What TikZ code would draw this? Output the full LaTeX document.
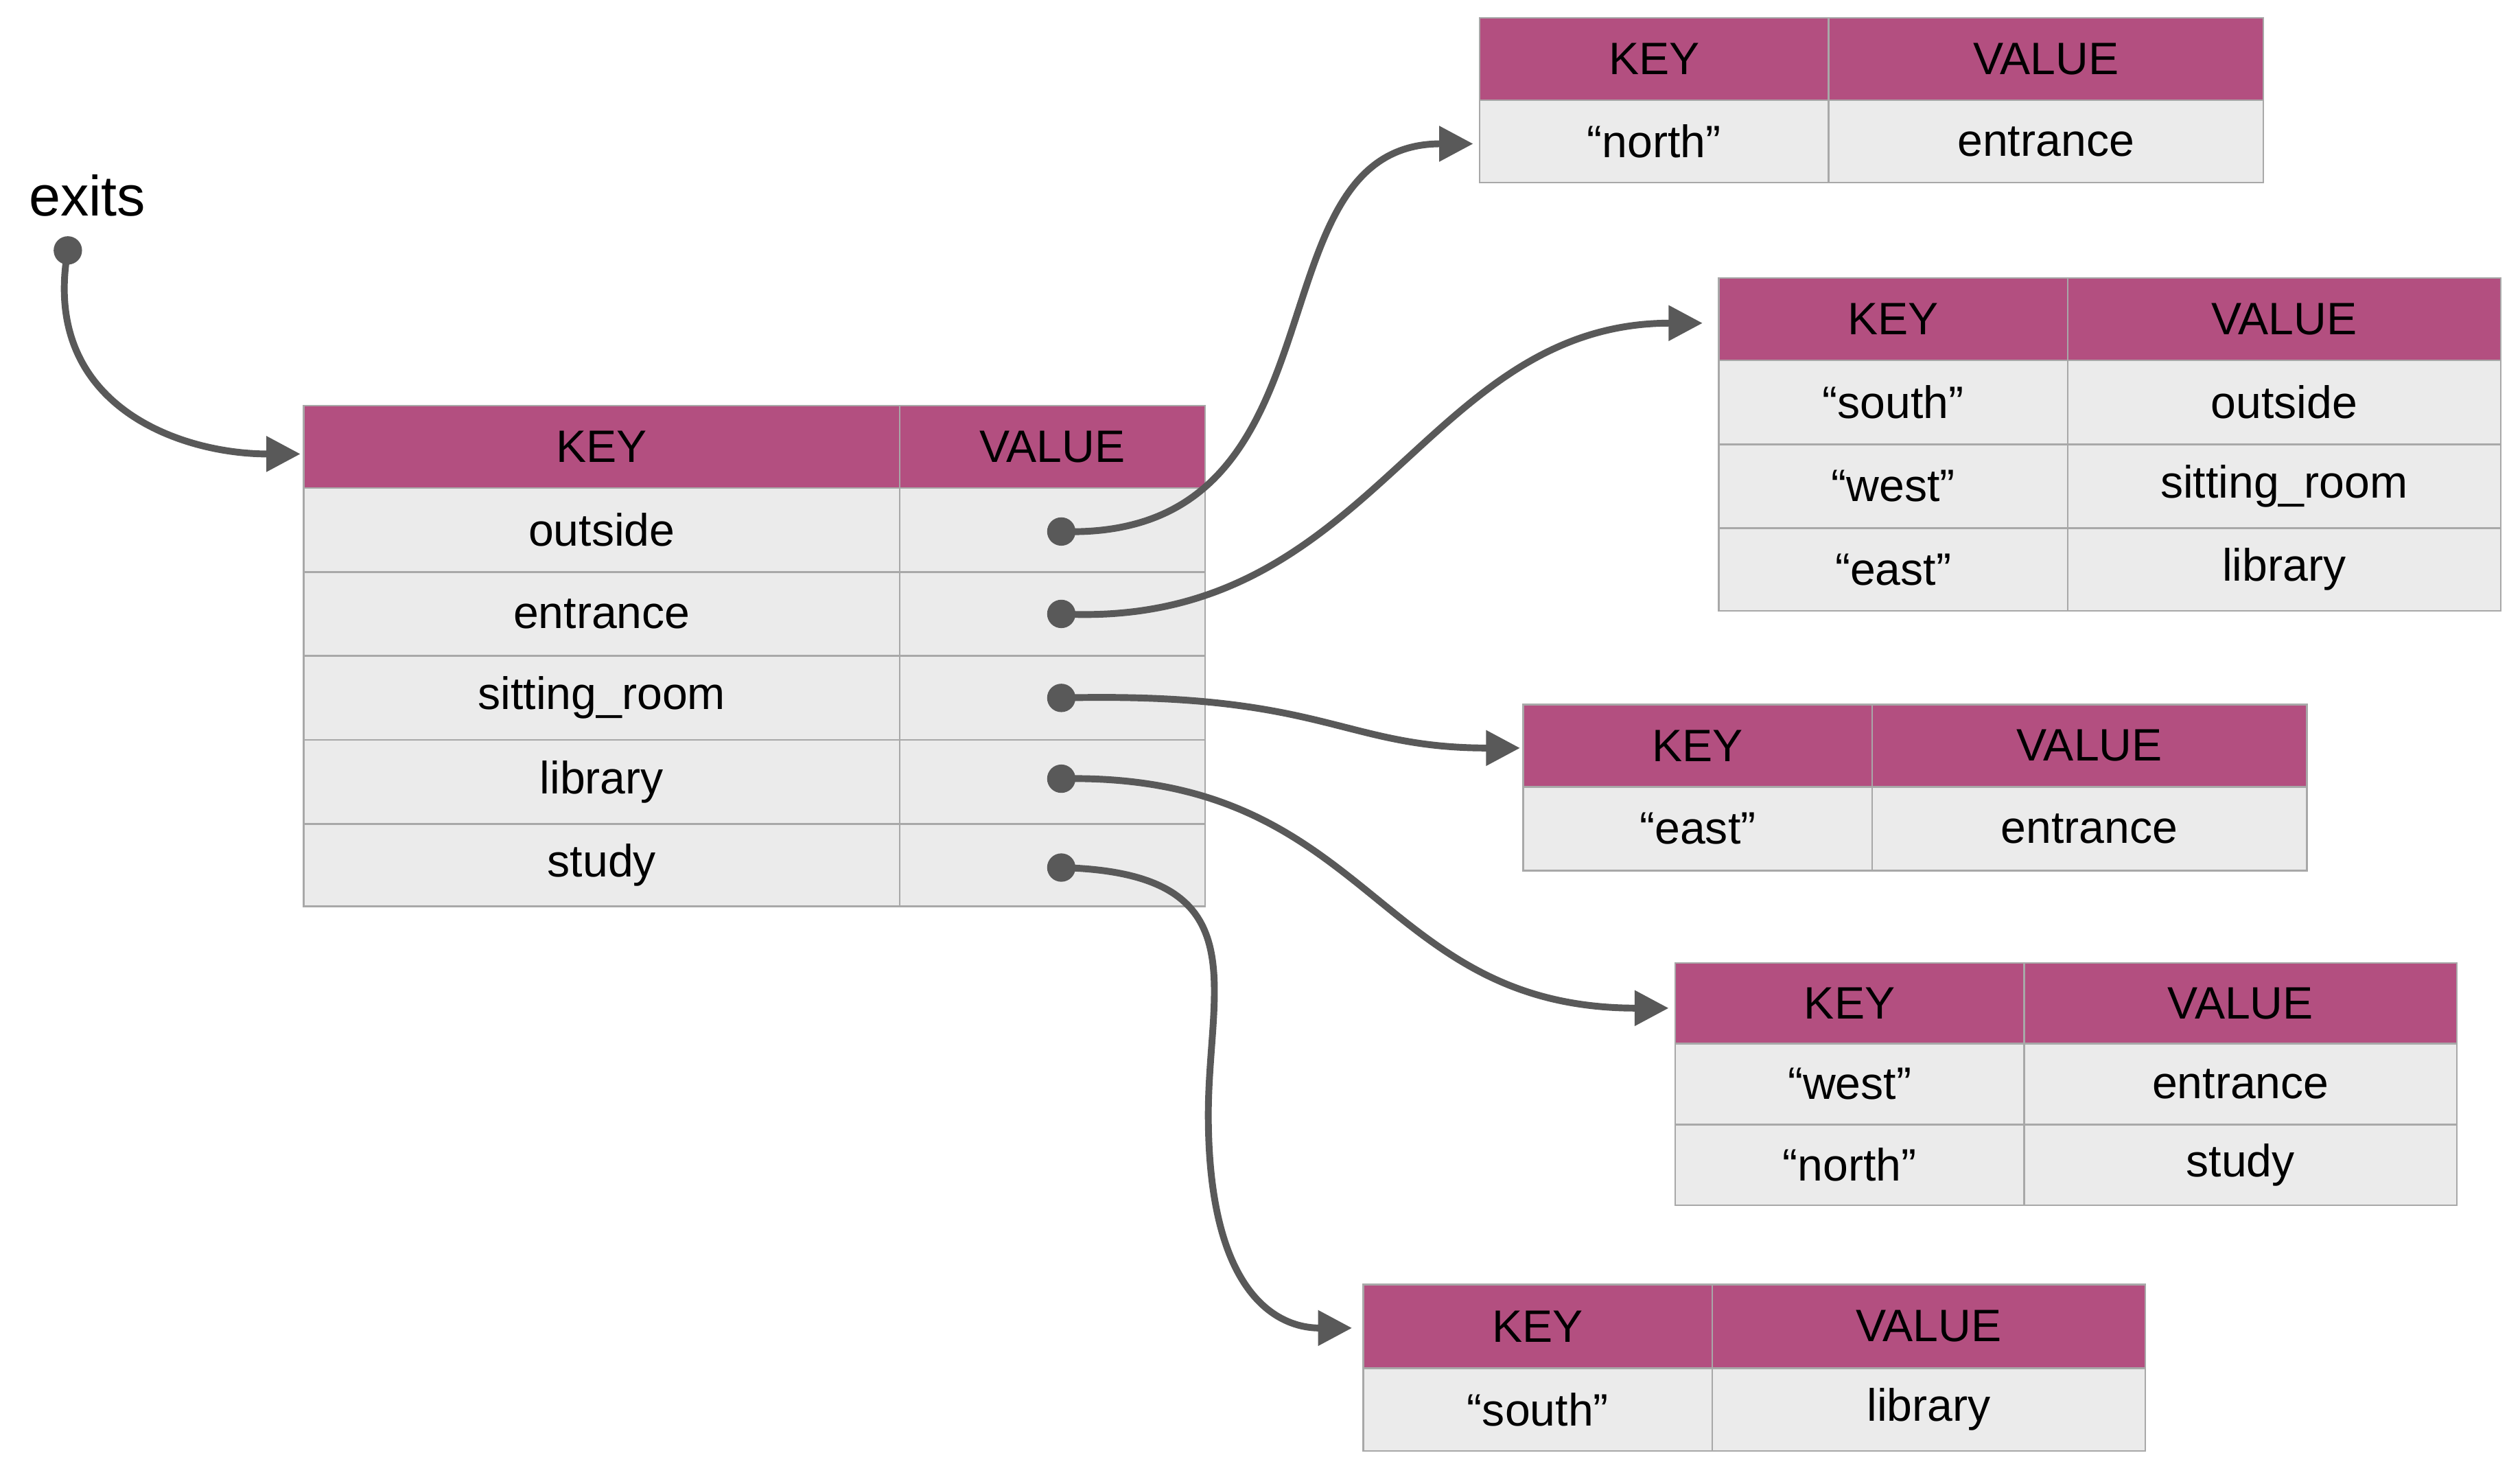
\documentclass[tikz,border=0pt]{standalone}
\usepackage{fontspec}
\setmainfont{Liberation Sans}
\usetikzlibrary{arrows.meta}
\definecolor{hdr}{HTML}{B34F80}
\definecolor{cellbg}{HTML}{EBEBEB}
\definecolor{bord}{HTML}{A8A8A8}
\definecolor{arr}{HTML}{595959}
\tikzset{
  hcell/.style={fill=hdr,draw=bord,line width=0.6pt},
  bcell/.style={fill=cellbg,draw=bord,line width=0.6pt},
  htxt/.style={text=white,font=\bfseries\fontsize{16}{18}\selectfont},
  btxt/.style={text=black,font=\fontsize{16}{18}\selectfont},
  link/.style={draw=arr,line width=2.4pt,-{Triangle[length=12pt,width=12pt]}},
  dot/.style={circle,fill=arr,inner sep=0pt,minimum size=10pt}
}
\newcommand\cellrow[8]{%
  \path[#8] (#1,#4) rectangle (#2,#5);
  \path[#8] (#2,#4) rectangle (#3,#5);
  \ifx#8hcell
    \node[htxt] at ({(#1+#2)/2},{(#4+#5)/2}) {#6};
    \node[htxt] at ({(#2+#3)/2},{(#4+#5)/2}) {#7};
  \else
    \node[btxt] at ({(#1+#2)/2},{(#4+#5)/2}) {#6};
    \node[btxt] at ({(#2+#3)/2},{(#4+#5)/2}) {#7};
  \fi}
\begin{document}
\begin{tikzpicture}[x=0.02cm,y=-0.02cm]
\useasboundingbox (0,0) rectangle (1560,906);
% main table
\cellrow{188}{557}{746}{251}{302}{KEY}{VALUE}{hcell}
\cellrow{188}{557}{746}{302}{354}{outside}{}{bcell}
\cellrow{188}{557}{746}{354}{406}{entrance}{}{bcell}
\cellrow{188}{557}{746}{406}{458}{sitting\_room}{}{bcell}
\cellrow{188}{557}{746}{458}{510}{library}{}{bcell}
\cellrow{188}{557}{746}{510}{561}{study}{}{bcell}
% T1
\cellrow{916}{1132}{1401}{11}{62}{KEY}{VALUE}{hcell}
\cellrow{916}{1132}{1401}{62}{113}{“north”}{entrance}{bcell}
% T2
\cellrow{1064}{1280}{1548}{172}{223}{KEY}{VALUE}{hcell}
\cellrow{1064}{1280}{1548}{223}{275}{“south”}{outside}{bcell}
\cellrow{1064}{1280}{1548}{275}{327}{“west”}{sitting\_room}{bcell}
\cellrow{1064}{1280}{1548}{327}{378}{“east”}{library}{bcell}
% T3
\cellrow{943}{1159}{1428}{436}{487}{KEY}{VALUE}{hcell}
\cellrow{943}{1159}{1428}{487}{539}{“east”}{entrance}{bcell}
% T4
\cellrow{1037}{1253}{1521}{596}{646}{KEY}{VALUE}{hcell}
\cellrow{1037}{1253}{1521}{646}{696}{“west”}{entrance}{bcell}
\cellrow{1037}{1253}{1521}{696}{746}{“north”}{study}{bcell}
% T5
\cellrow{844}{1060}{1328}{795}{847}{KEY}{VALUE}{hcell}
\cellrow{844}{1060}{1328}{847}{898}{“south”}{library}{bcell}
% labels, dots, targets
\node[font=\fontsize{20}{24}\selectfont] (exits) at (54,121) {exits};
\node[dot] (d0) at (42,155) {};
\node[dot] (d1) at (657,329) {};
\node[dot] (d2) at (657,380) {};
\node[dot] (d3) at (657,432) {};
\node[dot] (d4) at (657,482) {};
\node[dot] (d5) at (657,537) {};
\coordinate (tm) at (186,281);
\coordinate (t1) at (912,89);
\coordinate (t2) at (1054,200);
\coordinate (t3) at (941,463);
\coordinate (t4) at (1033,624);
\coordinate (t5) at (837,822);
\draw[link] (d0.center) .. controls (25,250) and (110,281) .. (tm);
\draw[link] (d1.center) .. controls (840,335) and (770,89) .. (t1);
\draw[link] (d2.center) .. controls (850,390) and (880,200) .. (t2);
\draw[link] (d3.center) .. controls (820,428) and (830,463) .. (t3);
\draw[link] (d4.center) .. controls (850,478) and (850,624) .. (t4);
\draw[link] (d5.center) .. controls (780,540) and (748,610) .. (748,690)
  .. controls (748,800) and (790,822) .. (t5);
\end{tikzpicture}
\end{document}
